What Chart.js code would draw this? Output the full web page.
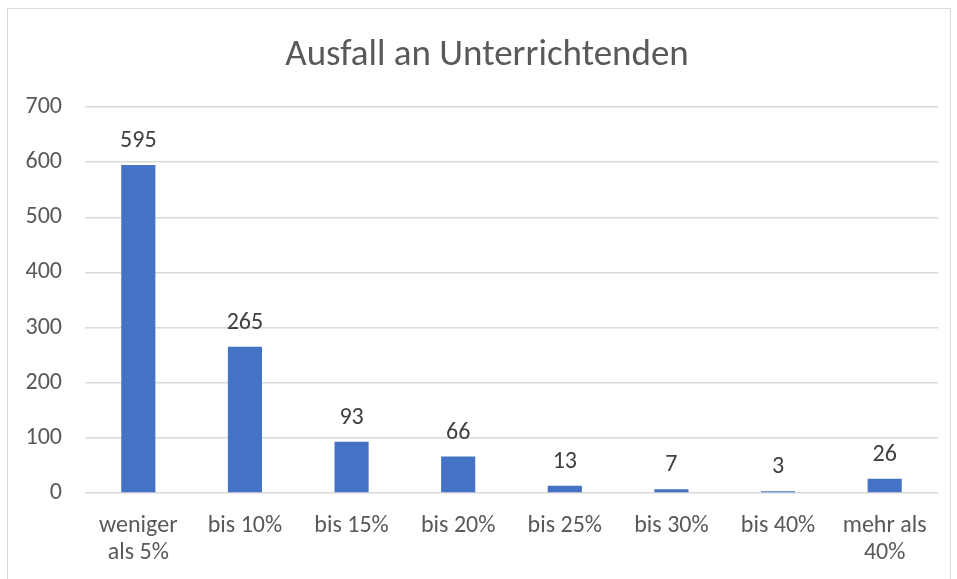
<!DOCTYPE html>
<html>
<head>
<meta charset="utf-8">
<script src="https://cdn.jsdelivr.net/npm/chart.js@4"></script>
<style>
  body { margin: 0; background: #fff; }
  #wrap { position: absolute; left: 7px; top: 8px; width: 942px; height: 578px; border: 1px solid #d9d9d9; }
</style>
</head>
<body>
<div id="wrap"><canvas id="chart"></canvas></div>
<script>
const categories = [['weniger', 'als 5%'], 'bis 10%', 'bis 15%', 'bis 20%', 'bis 25%', 'bis 30%', 'bis 40%', ['mehr als', '40%']];
const counts = [595, 265, 93, 66, 13, 7, 3, 26];
const yTicks = [0, 100, 200, 300, 400, 500, 600, 700];
const chartTitle = 'Ausfall an Unterrichtenden';

const fontFamily = 'Carlito, Calibri, "Liberation Sans", Arial, sans-serif';

// value labels above the bars + title (drawn by hand so it can sit a bit right of centre)
const barLabels = {
    id: 'barLabels',
    afterDatasetsDraw(chart) {
        const ctx = chart.ctx;
        const meta = chart.getDatasetMeta(0);
        ctx.save();
        ctx.font = '24px ' + fontFamily;
        ctx.fillStyle = '#404040';
        ctx.textAlign = 'center';
        ctx.textBaseline = 'alphabetic';
        meta.data.forEach((bar, i) => {
            ctx.fillText(counts[i], bar.x, bar.y - 18);
        });

        ctx.font = '37px ' + fontFamily;
        ctx.fillStyle = '#595959';
        ctx.textBaseline = 'middle';
        ctx.fillText(chartTitle, 479, 47);
        ctx.restore();
    }
};

const canvas = document.getElementById('chart');
canvas.width = 942;
canvas.height = 578;

new Chart(canvas.getContext('2d'), {
    type: 'bar',
    data: {
        labels: categories,
        datasets: [{
            data: counts,
            backgroundColor: '#4472C4',
            barPercentage: 0.32,
            categoryPercentage: 1
        }]
    },
    options: {
        responsive: false,
        animation: false,
        layout: { padding: { left: 0, right: 12, top: 98, bottom: 0 } },
        plugins: {
            legend: { display: false },
            tooltip: { enabled: false },
            title: { display: false }
        },
        scales: {
            x: {
                grid: { display: false },
                border: { display: false },
                ticks: {
                    color: '#595959',
                    font: { family: fontFamily, size: 24, lineHeight: 1.1 },
                    padding: 12,
                    maxRotation: 0,
                    autoSkip: false
                },
                afterFit(scale) { scale.height = 94; }
            },
            y: {
                min: 0,
                max: 700,
                afterBuildTicks(scale) { scale.ticks = yTicks.map(v => ({ value: v })); },
                grid: { color: '#d9d9d9', lineWidth: 1.5, drawTicks: false },
                border: { display: false },
                ticks: {
                    color: '#595959',
                    font: { family: fontFamily, size: 24 },
                    padding: 23
                },
                afterFit(scale) { scale.width = 77; }
            }
        }
    },
    plugins: [barLabels]
});
</script>
</body>
</html>
